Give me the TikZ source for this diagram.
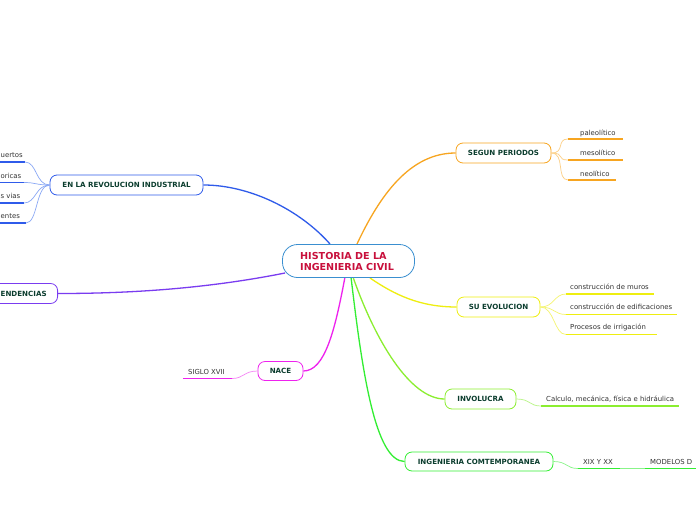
\documentclass[tikz,border=0pt]{standalone}
\usepackage{fontspec}
\setmainfont{DejaVu Sans}
\definecolor{cblue}{HTML}{2F5BEA}
\definecolor{lblue}{HTML}{8AA8F5}
\definecolor{corange}{HTML}{F7A520}
\definecolor{lorange}{HTML}{FCCF85}
\definecolor{cyellow}{HTML}{EEEE10}
\definecolor{lyellow}{HTML}{F5F570}
\definecolor{clgreen}{HTML}{8BEE30}
\definecolor{llgreen}{HTML}{B8F585}
\definecolor{cgreen}{HTML}{33EE33}
\definecolor{lgreen}{HTML}{88F588}
\definecolor{cmag}{HTML}{EE22EE}
\definecolor{lmag}{HTML}{F585F5}
\definecolor{cpurp}{HTML}{7A3CF0}
\definecolor{mainb}{HTML}{3A8FD0}
\definecolor{maint}{HTML}{C8103C}
\definecolor{nodet}{HTML}{0B3D2E}
\definecolor{subt}{HTML}{333333}
\tikzset{
  x=1pt, y=-1pt,
  topic/.style={draw, line width=0.8pt, rounded corners=7pt, fill=white, text=nodet,
    font=\fontsize{7.1}{8}\selectfont\bfseries, inner sep=0pt},
  subtxt/.style={anchor=base west, text=subt, font=\fontsize{6.9}{8}\selectfont, inner sep=0pt},
  mainc/.style={line width=1.3pt},
  subc/.style={line width=0.7pt},
  ul/.style={line width=1.6pt},
}
\begin{document}
\begin{tikzpicture}
\useasboundingbox (0,0) rectangle (696,520);
\fill[white] (0,0) rectangle (696,520);

% main connectors
\coordinate (mB) at (330,244);
\coordinate (mO) at (357,244);
\coordinate (mY) at (370,278);
\coordinate (mLG) at (353,277);
\coordinate (mG) at (351,277);
\coordinate (mM) at (345,277);
\coordinate (mP) at (285,273);

% topic nodes
\node[topic, draw=corange, minimum width=95pt, minimum height=20pt] (seg) at (503.5,153) {SEGUN PERIODOS};
\node[topic, draw=cyellow, minimum width=83pt, minimum height=20pt] (evo) at (498.5,307) {SU EVOLUCION};
\node[topic, draw=clgreen, minimum width=71pt, minimum height=20pt] (inv) at (480.5,399) {INVOLUCRA};
\node[topic, draw=cgreen, minimum width=148pt, minimum height=19pt] (con) at (479,461.5) {INGENIERIA COMTEMPORANEA};
\node[topic, draw=cmag, minimum width=45pt, minimum height=19pt] (nac) at (280.5,371) {NACE};
\node[topic, draw=cblue, minimum width=153pt, minimum height=20pt] (rev) at (126.5,185) {EN LA REVOLUCION INDUSTRIAL};
\node[topic, draw=cpurp, minimum width=100pt, minimum height=20pt, anchor=east] (ten) at (58,293.5) {};
\node[anchor=west, text=nodet, font=\fontsize{7.1}{8}\selectfont\bfseries, inner sep=0pt] (tent) at (0.5,293.5) {ENDENCIAS};

\draw[mainc, cblue] (mB) .. controls (300,210) and (250,185) .. (rev.east);
\draw[mainc, corange] (mO) .. controls (380,195) and (410,153) .. (seg.west);
\draw[mainc, cyellow] (mY) .. controls (395,295) and (420,307) .. (evo.west);
\draw[mainc, clgreen] (mLG) .. controls (375,340) and (410,399) .. (inv.west);
\draw[mainc, cgreen] (mG) .. controls (362,370) and (375,461.5) .. (con.west);
\draw[mainc, cmag] (mM) .. controls (335,330) and (325,371) .. (nac.east);
\draw[mainc, cpurp] (mP) .. controls (200,290) and (120,293.5) .. (ten.east);

% main node
\node[draw=mainb, line width=0.8pt, rounded corners=15pt, fill=white, minimum width=132pt, minimum height=33pt] (main) at (348.5,261) {};
\node[anchor=west, text=maint, font=\fontsize{9.6}{11}\selectfont\bfseries, align=left, inner sep=0pt] (maintext) at (300,261.5) {HISTORIA DE LA\\INGENIERIA CIVIL};

% SEGUN PERIODOS subtopics
\coordinate (palA) at (568,139); \coordinate (palB) at (623,139);
\coordinate (mesA) at (568,160); \coordinate (mesB) at (623,160);
\coordinate (neoA) at (568,180); \coordinate (neoB) at (616,180);
\node[subtxt] (pal) at (580,135) {paleolítico};
\node[subtxt] (mes) at (580,155.5) {mesolítico};
\node[subtxt] (neo) at (580,176) {neolítico};
\draw[ul, corange] (palA) -- (palB);
\draw[ul, corange] (mesA) -- (mesB);
\draw[ul, corange] (neoA) -- (neoB);
\foreach \t in {palA,mesA,neoA}
  \draw[subc, lorange] (seg.east) .. controls +(14,0) and +(-12,0) .. (\t);

% SU EVOLUCION subtopics
\coordinate (murA) at (566,294); \coordinate (murB) at (654,294);
\coordinate (ediA) at (566,314.5); \coordinate (ediB) at (677,314.5);
\coordinate (irrA) at (566,334.5); \coordinate (irrB) at (657,334.5);
\node[subtxt] (mur) at (570,289.5) {construcción de muros};
\node[subtxt] (edi) at (570,309.5) {construcción de edificaciones};
\node[subtxt] (irr) at (570,329.5) {Procesos de irrigación};
\draw[ul, cyellow] (murA) -- (murB);
\draw[ul, cyellow] (ediA) -- (ediB);
\draw[ul, cyellow] (irrA) -- (irrB);
\foreach \t in {murA,ediA,irrA}
  \draw[subc, lyellow] (evo.east) .. controls +(14,0) and +(-12,0) .. (\t);

% INVOLUCRA
\coordinate (calA) at (541,406); \coordinate (calB) at (679,406);
\node[subtxt] (cal) at (546,401.5) {Calculo, mecánica, física e hidráulica};
\draw[ul, clgreen] (calA) -- (calB);
\draw[subc, llgreen] (inv.east) .. controls +(14,0) and +(-12,0) .. (calA);

% CONTEMPORANEA
\coordinate (xixA) at (578,468.5); \coordinate (xixB) at (620,468.5);
\coordinate (modA) at (645,468.5); \coordinate (modB) at (700,468.5);
\node[subtxt] (xix) at (583,464) {XIX Y XX};
\node[subtxt] (mod) at (650,464) {MODELOS D};
\draw[ul, cgreen] (xixA) -- (xixB);
\draw[ul, cgreen] (modA) -- (modB);
\draw[subc, lgreen] (con.east) .. controls +(14,0) and +(-12,0) .. (xixA);
\draw[subc, lgreen] (xixB) -- (modA);

% NACE
\coordinate (sigA) at (183,378.5); \coordinate (sigB) at (232,378.5);
\node[subtxt] (sig) at (188,374) {SIGLO XVII};
\draw[ul, cmag] (sigA) -- (sigB);
\draw[subc, lmag] (nac.west) .. controls +(-14,0) and +(12,0) .. (sigB);

% REVOLUCION subtopics (cut at left edge)
\coordinate (r1A) at (-5,162); \coordinate (r1B) at (25,162);
\coordinate (r2A) at (-5,182.5); \coordinate (r2B) at (24,182.5);
\coordinate (r3A) at (-5,203); \coordinate (r3B) at (24,203);
\coordinate (r4A) at (-5,223); \coordinate (r4B) at (26,223);
\node[subtxt] (r1) at (0.5,157.5) {uertos};
\node[subtxt] (r2) at (0.5,178) {oricas};
\node[subtxt] (r3) at (0.5,198.5) {s vias};
\node[subtxt] (r4) at (0.5,218.5) {entes};
\draw[ul, cblue] (r1A) -- (r1B);
\draw[ul, cblue] (r2A) -- (r2B);
\draw[ul, cblue] (r3A) -- (r3B);
\draw[ul, cblue] (r4A) -- (r4B);
\foreach \t in {r1B,r2B,r3B,r4B}
  \draw[subc, lblue] (rev.west) .. controls +(-14,0) and +(12,0) .. (\t);
\end{tikzpicture}
\end{document}
